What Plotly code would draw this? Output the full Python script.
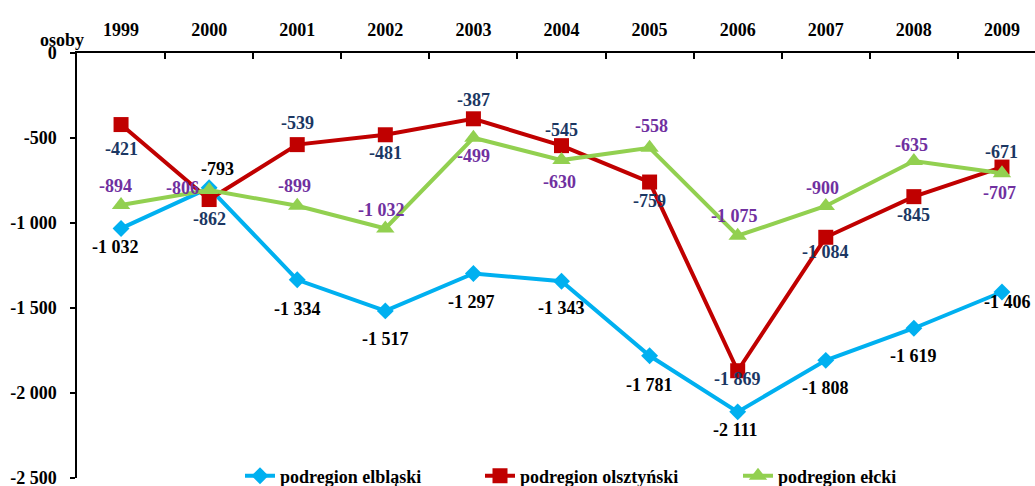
import plotly.graph_objects as go

# Net migration by subregion, 1999-2009 (persons)
years = ["1999", "2000", "2001", "2002", "2003", "2004", "2005", "2006", "2007", "2008", "2009"]
elblaski = [-1032, -793, -1334, -1517, -1297, -1343, -1781, -2111, -1808, -1619, -1406]
olsztynski = [-421, -862, -539, -481, -387, -545, -759, -1869, -1084, -845, -671]
elcki = [-894, -806, -899, -1032, -499, -630, -558, -1075, -900, -635, -707]

y_ticks = [0, -500, -1000, -1500, -2000, -2500]

FONT = "Liberation Serif"
W, H = 1035, 486
PLOT_TOP, PLOT_BOTTOM = 53, 478


def fmt(v):
    return f"{v:,}".replace(",", " ")


def paper_y(px):
    return (PLOT_BOTTOM - px) / (PLOT_BOTTOM - PLOT_TOP)


# label offsets (xshift, yshift) in pixels for each point's value label
off_elb = [(-6, -19), (8, 19), (0, -29), (0, -28), (-2, -29), (0, -27),
           (0, -29), (-2, -18), (0, -28), (0, -28), (6, -10)]
off_ols = [(0, -24), (0, -19), (0, 22), (0, -18), (0, 19), (0, 16),
           (0, -19), (0, -8), (0, -15), (0, -18), (0, 15)]
off_elc = [(-6, 19), (-27, 2), (-3, 20), (-4, 18), (0, -18), (-2, -22),
           (2, 22), (-3, 20), (-3, 18), (-2, 16), (-2, -20)]

# name, values, line colour, marker, marker size, label colour, offsets, legend id, legend x (px)
series = [
    ("podregion elbląski", elblaski, "#00B0F0", "diamond", 13, "#000000", off_elb, "legend", 240),
    ("podregion olsztyński", olsztynski, "#C00000", "square", 15, "#1B3763", off_ols, "legend2", 480),
    ("podregion ełcki", elcki, "#92D050", "triangle-up", 16, "#7030A0", off_elc, "legend3", 738),
]

fig = go.Figure()
annotations = []
legends = {}
for name, vals, color, sym, msize, lcolor, offs, leg, legx in series:
    fig.add_trace(go.Scatter(
        x=years, y=vals, name=name, mode="lines+markers", legend=leg,
        line=dict(color=color, width=4),
        marker=dict(symbol=sym, size=msize, color=color),
    ))
    legends[leg] = dict(
        orientation="h", x=legx / W, y=10 / H, xref="container", yref="container",
        xanchor="left", yanchor="middle",
        font=dict(family=FONT, size=18, color="#000000", weight="bold"),
        bgcolor="rgba(0,0,0,0)",
    )
    # value labels: category axis positions are addressed by index
    for i, (v, (dx, dy)) in enumerate(zip(vals, offs)):
        annotations.append(dict(
            x=i, y=v, xref="x", yref="y", text=fmt(v), showarrow=False,
            xshift=dx, yshift=dy,
            font=dict(family=FONT, size=18, color=lcolor, weight="bold"),
        ))

# unit label above the value axis
annotations.append(dict(
    x=(62 - 77) / (W - 77), y=paper_y(40), xref="paper", yref="paper",
    text="osoby", showarrow=False, xanchor="center", yanchor="middle",
    font=dict(family=FONT, size=18, color="#000000", weight="bold"),
))

# chart title (runs off the top edge of the page)
annotations.append(dict(
    x=(450 - 77) / (W - 77), y=paper_y(0), xref="paper", yref="paper",
    text="Saldo ruchu migracyjnego ogółem na pobyt stały według podregionów",
    showarrow=False, xanchor="center", yanchor="bottom",
    font=dict(family=FONT, size=18, color="#000000", weight="bold"),
))

fig.update_layout(
    width=W, height=H,
    margin=dict(l=77, r=0, t=PLOT_TOP, b=H - PLOT_BOTTOM, autoexpand=False),
    paper_bgcolor="white", plot_bgcolor="white",
    font=dict(family=FONT, size=18, color="#000000", weight="bold"),
    annotations=annotations,
    showlegend=True,
    **legends,
)

fig.update_xaxes(
    type="category", side="top", range=[-0.5, 10.375],
    showline=True, linecolor="#000000", linewidth=2,
    ticks="inside", ticklen=6, tickwidth=2, tickcolor="#000000",
    tickson="boundaries", ticklabelstandoff=8,
    showgrid=False, zeroline=False,
    tickfont=dict(family=FONT, size=18, color="#000000", weight="bold"),
)
fig.update_yaxes(
    range=[-2500, 0], tickvals=y_ticks, ticktext=[fmt(v) for v in y_ticks],
    showline=True, linecolor="#000000", linewidth=1.5,
    ticks="outside", ticklen=5, tickwidth=1.5, tickcolor="#000000",
    ticklabelstandoff=10, ticklabeloverflow="allow",
    showgrid=False, zeroline=False,
    tickfont=dict(family=FONT, size=18, color="#000000", weight="bold"),
)

fig.write_html("out.html")
